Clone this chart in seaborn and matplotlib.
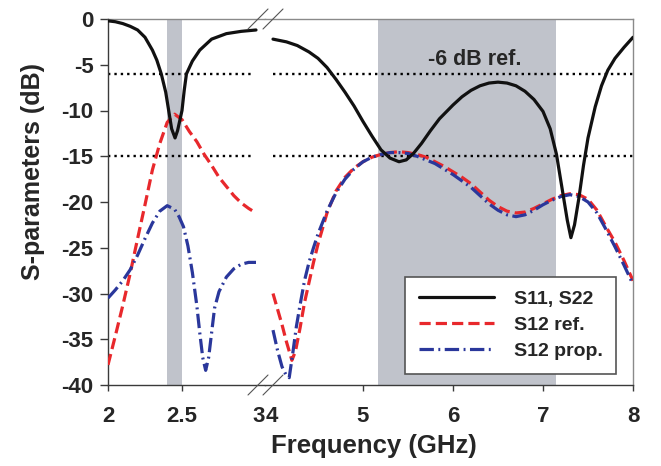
import matplotlib
matplotlib.use("Agg")
import matplotlib.pyplot as plt
from matplotlib.lines import Line2D
from matplotlib.transforms import ScaledTranslation
import seaborn as sns

# ---- measured S-parameters (GHz, dB) ----
# low band segment (2-3 GHz)
freq_s11_lo = [2.00, 2.05, 2.10, 2.15, 2.20, 2.25, 2.30, 2.33, 2.36, 2.39, 2.41, 2.43,
               2.453, 2.47, 2.50, 2.515, 2.53, 2.57, 2.62, 2.70, 2.80, 2.90, 3.00]
s11_lo = [-0.2, -0.3, -0.5, -0.8, -1.2, -2.0, -3.4, -4.5, -6.0, -8.0, -10.0, -12.0,
          -13.0, -12.2, -10.0, -7.8, -6.0, -4.6, -3.4, -2.2, -1.6, -1.35, -1.2]

freq_ref_lo = [2.00, 2.05, 2.10, 2.15, 2.20, 2.25, 2.30, 2.35, 2.40, 2.45, 2.50, 2.55,
               2.60, 2.65, 2.70, 2.75, 2.80, 2.85, 2.90, 2.95, 3.00]
s12_ref_lo = [-37.8, -34.6, -31.3, -27.8, -24.0, -20.3, -16.5, -13.6, -11.3, -10.4, -11.0, -12.3,
              -13.4, -14.8, -16.0, -17.3, -18.3, -19.3, -20.1, -20.7, -21.2]

freq_prop_lo = [2.00, 2.05, 2.10, 2.15, 2.20, 2.25, 2.30, 2.35, 2.40, 2.45, 2.48, 2.51,
                2.54, 2.57, 2.60, 2.62, 2.64, 2.66, 2.68, 2.70, 2.72, 2.75, 2.80, 2.85,
                2.90, 2.95, 3.00]
s12_prop_lo = [-30.5, -29.6, -28.6, -27.4, -25.8, -24.0, -22.3, -21.0, -20.4, -20.8, -21.6, -22.7,
               -24.8, -27.7, -31.3, -34.3, -37.0, -38.4, -37.0, -34.3, -31.6, -29.8, -28.2, -27.3,
               -26.8, -26.6, -26.6]

# high band segment (4-8 GHz)
freq_s11_hi = [4.00, 4.15, 4.27, 4.40, 4.50, 4.60, 4.70, 4.80, 4.90, 5.00, 5.10, 5.20,
               5.30, 5.40, 5.48, 5.56, 5.65, 5.75, 5.85, 6.00, 6.10, 6.20, 6.30, 6.40,
               6.50, 6.60, 6.70, 6.80, 6.90, 7.00, 7.08, 7.15, 7.22, 7.27, 7.31, 7.35,
               7.40, 7.45, 7.50, 7.58, 7.65, 7.72, 7.80, 7.90, 8.00]
s11_hi = [-2.2, -2.5, -2.9, -3.6, -4.3, -5.3, -6.6, -8.0, -9.5, -11.2, -12.8, -14.3,
          -15.2, -15.6, -15.4, -14.7, -13.6, -12.2, -10.9, -9.4, -8.5, -7.8, -7.3, -7.0,
          -6.9, -7.0, -7.3, -7.9, -8.8, -10.1, -12.0, -14.8, -19.0, -22.0, -23.9, -22.5,
          -19.5, -16.0, -13.0, -9.6, -7.3, -5.6, -4.3, -3.1, -2.0]

freq_ref_hi = [4.00, 4.05, 4.10, 4.15, 4.21, 4.25, 4.30, 4.35, 4.40, 4.45, 4.50, 4.60,
               4.70, 4.80, 4.90, 5.00, 5.10, 5.20, 5.30, 5.40, 5.50, 5.60, 5.70, 5.80,
               5.90, 6.00, 6.10, 6.20, 6.30, 6.40, 6.50, 6.60, 6.70, 6.80, 6.90, 7.00,
               7.10, 7.20, 7.30, 7.40, 7.50, 7.60, 7.70, 7.80, 7.90, 8.00]
s12_ref_hi = [-30.0, -31.7, -33.4, -35.3, -37.3, -36.3, -33.8, -31.0, -28.8, -26.6, -24.6, -21.2,
              -18.8, -17.3, -16.3, -15.6, -15.1, -14.8, -14.6, -14.5, -14.6, -14.8, -15.1, -15.6,
              -16.1, -16.7, -17.3, -18.0, -18.9, -19.8, -20.5, -21.0, -21.2, -21.1, -20.7, -20.2,
              -19.7, -19.3, -19.1, -19.2, -19.7, -20.9, -22.7, -24.4, -26.4, -28.6]

freq_prop_hi = [4.00, 4.05, 4.10, 4.15, 4.18, 4.22, 4.26, 4.30, 4.35, 4.40, 4.45, 4.50,
                4.60, 4.70, 4.80, 4.90, 5.00, 5.10, 5.20, 5.30, 5.40, 5.50, 5.60, 5.70,
                5.80, 5.90, 6.00, 6.10, 6.20, 6.30, 6.40, 6.50, 6.60, 6.70, 6.80, 6.90,
                7.00, 7.10, 7.20, 7.30, 7.40, 7.50, 7.60, 7.70, 7.80, 7.90, 8.00]
s12_prop_hi = [-34.0, -36.2, -38.0, -39.0, -39.2, -36.5, -33.6, -31.3, -28.6, -26.6, -25.0, -23.5,
               -21.0, -19.0, -17.5, -16.4, -15.6, -15.1, -14.8, -14.6, -14.6, -14.7, -15.0, -15.4,
               -15.8, -16.4, -17.0, -17.7, -18.4, -19.3, -20.2, -20.9, -21.4, -21.6, -21.4, -20.9,
               -20.3, -19.8, -19.4, -19.2, -19.4, -20.0, -21.2, -23.0, -24.9, -26.9, -29.0]

# shaded operating bands (GHz)
band_lo = (2.40, 2.50)
band_hi = (5.17, 7.14)

# dotted reference levels (dB) and their extent in each segment
ref_levels = [-6, -15]
ref_span_lo = (2.0, 2.98)
ref_span_hi = (4.0, 8.0)

yticks = [0, -5, -10, -15, -20, -25, -30, -35, -40]
xticks_lo = [2, 2.5, 3]
xticks_hi = [4, 5, 6, 7, 8]
xticklabels_lo = ["2", "2.5", "3"]
xticklabels_hi = ["4", "5", "6", "7", "8"]

sns.set_style("ticks")
plt.rcParams["font.family"] = ["Liberation Sans", "DejaVu Sans"]
plt.rcParams["font.weight"] = "bold"
plt.rcParams["axes.unicode_minus"] = False

W, H = 661, 466
fig = plt.figure(figsize=(W / 100, H / 100), dpi=100)

x_left, x_break, x_right = 108, 265, 633
y_top, y_bot = 19, 385


def fx(px):
    return px / W


def fy(py):
    return 1 - py / H


ax1 = fig.add_axes([fx(x_left), fy(y_bot), fx(x_break - x_left), (y_bot - y_top) / H])
ax2 = fig.add_axes([fx(x_break), fy(y_bot), fx(x_right - x_break), (y_bot - y_top) / H])

ax1.set_xlim(2.0, 2.0 + (x_break - x_left) / 148.0)
ax2.set_xlim(4.0 - (273 - x_break) / 90.0, 8.0)
for ax in (ax1, ax2):
    ax.set_ylim(-40, 0)

BLACK = "#111111"
RED = "#e8282c"
BLUE = "#2a379b"
BAND = "#c0c3cb"
LW = 2.3
red_dash = (0, (3.5, 1.6))
blue_dashdot = (0, (4.5, 1.4, 0.6, 1.4))

# shaded bands
ax1.axvspan(*band_lo, color=BAND, lw=0, zorder=0)
ax2.axvspan(*band_hi, color=BAND, lw=0, zorder=0)

# dotted reference levels
for lvl in ref_levels:
    ax1.hlines(lvl, *ref_span_lo, colors="k", linewidth=1.7, linestyles=(0, (1, 1.7)), zorder=1)
    ax2.hlines(lvl, *ref_span_hi, colors="k", linewidth=1.7, linestyles=(0, (1, 1.7)), zorder=1)

common = dict(estimator=None, sort=False, errorbar=None, legend=False)

sns.lineplot(x=freq_ref_lo, y=s12_ref_lo, ax=ax1, color=RED, linewidth=LW, linestyle=red_dash, zorder=3, **common)
sns.lineplot(x=freq_prop_lo, y=s12_prop_lo, ax=ax1, color=BLUE, linewidth=LW, linestyle=blue_dashdot, zorder=4, **common)
sns.lineplot(x=freq_s11_lo, y=s11_lo, ax=ax1, color=BLACK, linewidth=LW, zorder=5, **common)

sns.lineplot(x=freq_ref_hi, y=s12_ref_hi, ax=ax2, color=RED, linewidth=LW, linestyle=red_dash, zorder=3, **common)
sns.lineplot(x=freq_prop_hi, y=s12_prop_hi, ax=ax2, color=BLUE, linewidth=LW, linestyle=blue_dashdot, zorder=4, **common)
sns.lineplot(x=freq_s11_hi, y=s11_hi, ax=ax2, color=BLACK, linewidth=LW, zorder=5, **common)

# axes frame
dark, light = "#3a3a3a", "#8a8a8a"
ax1.spines["right"].set_visible(False)
ax2.spines["left"].set_visible(False)
for ax in (ax1, ax2):
    ax.spines["bottom"].set_color(dark)
    ax.spines["top"].set_color(light)
    for s in ax.spines.values():
        s.set_linewidth(1.0)
ax1.spines["left"].set_color(dark)
ax2.spines["right"].set_color(light)

ax1.set_yticks(yticks)
ax1.set_yticklabels([str(v) for v in yticks])
ax1.tick_params(axis="y", direction="out", length=5.5, width=1, color=dark, pad=5, labelsize=16)
ax2.tick_params(axis="y", left=False, labelleft=False)

ax1.set_xticks(xticks_lo)
ax1.set_xticklabels(xticklabels_lo)
ax2.set_xticks(xticks_hi)
ax2.set_xticklabels(xticklabels_hi)
for ax in (ax1, ax2):
    ax.tick_params(axis="x", direction="out", length=4, width=1, color=dark, pad=11, labelsize=16)
ax1.xaxis.get_major_ticks()[2].tick1line.set_visible(False)
ax2.xaxis.get_major_ticks()[0].tick1line.set_visible(False)
# pull the "3" and "4" labels together at the break
lab3 = ax1.get_xticklabels()[2]
lab3.set_transform(lab3.get_transform() + ScaledTranslation(3 / 100, 0, fig.dpi_scale_trans))
lab4 = ax2.get_xticklabels()[0]
lab4.set_transform(lab4.get_transform() + ScaledTranslation(-1 / 100, 0, fig.dpi_scale_trans))
for ax in (ax1, ax2):
    ax.set_xlabel("")
    ax.set_ylabel("")

# axis titles
fig.text(fx(374), fy(446), "Frequency (GHz)", ha="center", va="center", fontsize=18.5, weight="bold")
fig.text(fx(33), fy(171), "S-parameters (dB)", ha="center", va="center", rotation=90, fontsize=18, weight="bold")

ax2.text(6.24, -4.4, "-6 dB ref.", ha="center", va="center", fontsize=15.5, weight="bold", zorder=6)

# axis break marks
for cx in (258, 273):
    for cy in (y_top, y_bot):
        fig.add_artist(Line2D([fx(cx - 10), fx(cx + 10)], [fy(cy + 10), fy(cy - 10)],
                              color="#555555", linewidth=0.8, zorder=10))

# legend
handles = [
    Line2D([], [], color=BLACK, linewidth=LW),
    Line2D([], [], color=RED, linewidth=LW, linestyle=red_dash),
    Line2D([], [], color=BLUE, linewidth=LW, linestyle=blue_dashdot),
]
labels = ["S11, S22", "S12 ref.", "S12 prop."]
leg = ax2.legend(handles, labels, loc="upper left", bbox_to_anchor=(fx(405), fy(277)),
                 bbox_transform=fig.transFigure, borderaxespad=0, frameon=True, fancybox=False,
                 framealpha=1, edgecolor="#555555", fontsize=14, handlelength=3.9,
                 handletextpad=1.0, borderpad=0.7, labelspacing=0.43)
leg.get_frame().set_linewidth(1.2)
leg.set_zorder(20)
for t in leg.get_texts():
    t.set_fontweight("bold")

fig.savefig("out.png", dpi=100)
